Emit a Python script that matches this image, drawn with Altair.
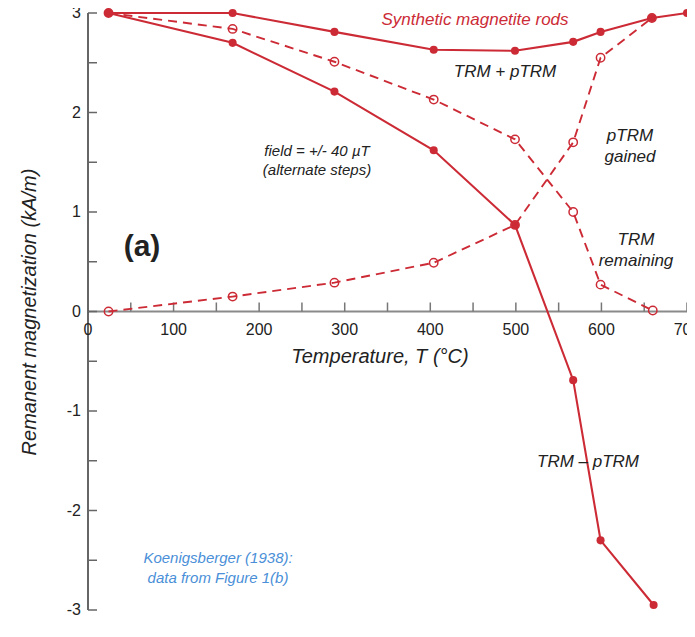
import altair as alt
import pandas as pd

# ---- data ----
T_SUM = [24, 169, 288, 404, 499, 567, 599, 659, 700]
M_SUM = [3.0, 3.0, 2.81, 2.63, 2.62, 2.71, 2.81, 2.95, 3.0]

T_DIFF = [24, 169, 288, 404, 499, 567, 599, 661]
M_DIFF = [3.0, 2.70, 2.21, 1.62, 0.87, -0.69, -2.30, -2.95]

T_REM = [24, 169, 288, 404, 499, 567, 599, 660]
M_REM = [3.0, 2.84, 2.51, 2.13, 1.73, 1.0, 0.27, 0.01]

T_GAIN = [24, 169, 288, 404, 499, 567, 599, 659]
M_GAIN = [0.0, 0.15, 0.29, 0.49, 0.87, 1.70, 2.55, 2.95]

X_LABELS = [0, 100, 200, 300, 400, 500, 600, 700]
Y_LABELS = [-3, -2, -1, 0, 1, 2, 3]
X_TICKS = [50, 100, 150, 200, 250, 300, 350, 400, 450, 500, 550, 600, 650, 700]
Y_TICKS = [-3, -2.5, -2, -1.5, -1, -0.5, 0, 0.5, 1, 1.5, 2, 2.5, 3]

RED = "#cc2b36"
BLUE = "#4a8fd8"
INK = "#222222"
FONT = "Liberation Sans"
W, H = 599, 597
Y0 = H / 2  # pixel row of M = 0

xs = alt.Scale(domain=[0, 700], nice=False, zero=False)
ys = alt.Scale(domain=[-3, 3], nice=False, zero=False)
one = alt.Data(values=[{}])


def series(T, M, dashed, filled):
    df = pd.DataFrame({"T": T, "M": M})
    base = alt.Chart(df).encode(
        x=alt.X("T:Q", scale=xs, axis=None),
        y=alt.Y("M:Q", scale=ys, axis=None),
    )
    if dashed:
        line = base.mark_line(color=RED, strokeWidth=1.9, strokeDash=[9, 6])
    else:
        line = base.mark_line(color=RED, strokeWidth=2.1)
    if filled:
        pts = base.mark_point(shape="circle", filled=True, color=RED, size=65, opacity=1)
    else:
        pts = base.mark_point(shape="circle", filled=False, color=RED, size=70,
                              strokeWidth=1.5, opacity=1)
    return [line, pts]


# ---- hand-built axes ----
x_domain = alt.Chart(one).mark_rule(color="#8a8a8a", strokeWidth=2).encode(
    x=alt.value(0), x2=alt.value(W), y=alt.value(Y0))
y_domain = alt.Chart(one).mark_rule(color="#333333", strokeWidth=1.5).encode(
    x=alt.value(0), y=alt.value(0), y2=alt.value(H))

xticks = alt.Chart(pd.DataFrame({"T": X_TICKS})).mark_rule(color="#777777", strokeWidth=1.5).encode(
    x=alt.X("T:Q", scale=xs, axis=None),
    y=alt.value(Y0), y2=alt.value(Y0 - 9),
)
yticks = alt.Chart(pd.DataFrame({"M": Y_TICKS})).mark_rule(color="#666666", strokeWidth=1.5).encode(
    y=alt.Y("M:Q", scale=ys, axis=None),
    x=alt.value(0), x2=alt.value(9),
)

xlab_df = pd.DataFrame({"T": X_LABELS, "lab": [str(v) for v in X_LABELS]})
xlabels = alt.Chart(xlab_df).mark_text(
    font=FONT, fontSize=16, color=INK, align="center", baseline="top").encode(
    x=alt.X("T:Q", scale=xs, axis=None), y=alt.value(Y0 + 10), text="lab:N")

ylab_df = pd.DataFrame({"M": Y_LABELS, "lab": [str(v) for v in Y_LABELS]})
ylabels = alt.Chart(ylab_df).mark_text(
    font=FONT, fontSize=16, color=INK, align="right", baseline="middle").encode(
    y=alt.Y("M:Q", scale=ys, axis=None), x=alt.value(-7), text="lab:N")


def label(text, x, y, color=INK, size=14, style="italic", weight="normal", angle=0, lh=20):
    return alt.Chart(one).mark_text(
        text=text, x=x, y=y, color=color, font=FONT, fontSize=size,
        fontStyle=style, fontWeight=weight, angle=angle, align="center",
        baseline="middle", lineHeight=lh,
    )


texts = [
    label("Synthetic magnetite rods", 387, 7, color=RED, size=17),
    label("TRM + pTRM", 417, 59, size=17),
    label(["field = +/- 40 \u00b5T", "(alternate  steps)"], 229, 138, size=15, lh=19),
    label("(a)", 54, 234, size=30, style="normal", weight="bold"),
    label(["pTRM", "gained"], 542, 123, size=17, lh=21),
    label(["TRM", "remaining"], 548, 227, size=17, lh=21),
    label("TRM \u2013 pTRM", 500, 449, size=17),
    label(["Koenigsberger (1938):", "data from Figure 1(b)"], 130, 545, color=BLUE, size=15),
    label("Temperature, T (\u00b0C)", 292, 344, size=20),
    label("Remanent magnetization (kA/m)", -58, 299, size=20, angle=270),
]

layers = [x_domain, y_domain, xticks, yticks, xlabels, ylabels]
layers += series(T_REM, M_REM, dashed=True, filled=False)
layers += series(T_GAIN, M_GAIN, dashed=True, filled=False)
layers += series(T_SUM, M_SUM, dashed=False, filled=True)
layers += series(T_DIFF, M_DIFF, dashed=False, filled=True)
layers += texts

chart = alt.layer(*layers).properties(
    width=W, height=H,
    autosize=alt.AutoSizeParams(type="none"),
    padding={"left": 80, "top": 5, "right": 0, "bottom": 16},
    background="white",
).configure_view(stroke=None)

chart.save("out.html", embed_options={"renderer": "svg", "actions": False})
